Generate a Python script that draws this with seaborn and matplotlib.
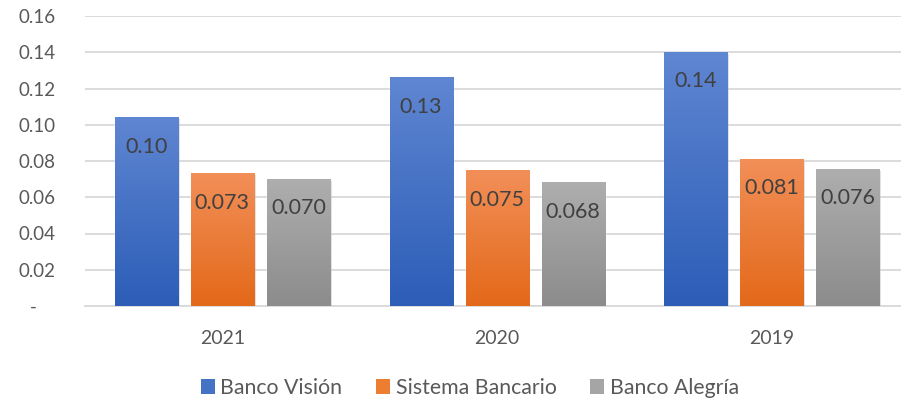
import numpy as np
import pandas as pd
import matplotlib
matplotlib.use("Agg")
import matplotlib.pyplot as plt
import seaborn as sns
from matplotlib.colors import LinearSegmentedColormap
from matplotlib.patches import Patch
import matplotlib.patheffects as pe

years = ["2021", "2020", "2019"]
series = ["Banco Visión", "Sistema Bancario", "Banco Alegría"]
banco_vision = [0.104, 0.126, 0.140]
sistema_bancario = [0.073, 0.0745, 0.081]
banco_alegria = [0.070, 0.068, 0.0755]
labels_vision = ["0.10", "0.13", "0.14"]
labels_sistema = ["0.073", "0.075", "0.081"]
labels_alegria = ["0.070", "0.068", "0.076"]
yticks = [0.0, 0.02, 0.04, 0.06, 0.08, 0.10, 0.12, 0.14, 0.16]

top_colors = ["#5F86D2", "#F28F58", "#AEAEAE"]
bot_colors = ["#2C5DB7", "#E3691A", "#8C8C8C"]
mid_colors = ["#4472C4", "#ED7D31", "#A5A5A5"]

df = pd.DataFrame({
    "year": years * 3,
    "series": [s for s in series for _ in years],
    "value": banco_vision + sistema_bancario + banco_alegria,
})

sns.set_theme(style="white")
plt.rcParams["font.family"] = ["Lato", "DejaVu Sans"]

fig = plt.figure(figsize=(9.01, 4.05), dpi=100)
ax = fig.add_axes([85 / 901, 99 / 405, (901 - 85) / 901, 290 / 405])

sns.barplot(data=df, x="year", y="value", hue="series", order=years,
            hue_order=series, palette=mid_colors, width=0.83, gap=0.17,
            legend=False, ax=ax, zorder=3)

all_labels = [labels_vision, labels_sistema, labels_alegria]
for i, cont in enumerate(ax.containers):
    cmap = LinearSegmentedColormap.from_list("g", [bot_colors[i], top_colors[i]])
    for j, bar in enumerate(cont):
        x = bar.get_x()
        w = bar.get_width()
        h = bar.get_height()
        bar.set_path_effects([pe.SimplePatchShadow(offset=(1.2, -1.2), shadow_rgbFace="#999999", alpha=0.35), pe.Normal()])
        grad = np.linspace(0, 1, 256).reshape(-1, 1)
        ax.imshow(grad, extent=[x, x + w, 0, h], origin="lower", aspect="auto",
                  cmap=cmap, zorder=4, interpolation="bicubic")
        ax.annotate(all_labels[i][j], xy=(x + w / 2, h), xytext=(0, -21),
                    textcoords="offset points", ha="center", va="center",
                    fontsize=15.5, color="#404040", zorder=5)

ax.set_xlim(-0.5, 2.47)
ax.set_ylim(0, 0.16)
ax.set_yticks(yticks)
ax.set_yticklabels(["-    "] + [f"{v:.2f}" for v in yticks[1:]])
ax.yaxis.grid(True, color="#D9D9D9", linewidth=1.3, zorder=0)
ax.set_axisbelow(True)
for s in ["left", "right", "top"]:
    ax.spines[s].set_visible(False)
ax.spines["bottom"].set_color("#D9D9D9")
ax.spines["bottom"].set_linewidth(1.3)
ax.tick_params(axis="y", length=0, pad=21, labelsize=13.5, labelcolor="#595959")
ax.tick_params(axis="x", length=0, pad=17, labelsize=14, labelcolor="#595959")
ax.set_xlabel("")
ax.set_ylabel("")

handles = [Patch(facecolor=c, edgecolor="none") for c in mid_colors]
fig.legend(handles, series, loc="center", bbox_to_anchor=(470 / 901, 17 / 405), ncol=3,
           frameon=False, handlelength=0.65, handleheight=0.65, handletextpad=0.25,
           columnspacing=1.6, fontsize=15.3, labelcolor="#595959")

fig.savefig("out.png", dpi=100)
